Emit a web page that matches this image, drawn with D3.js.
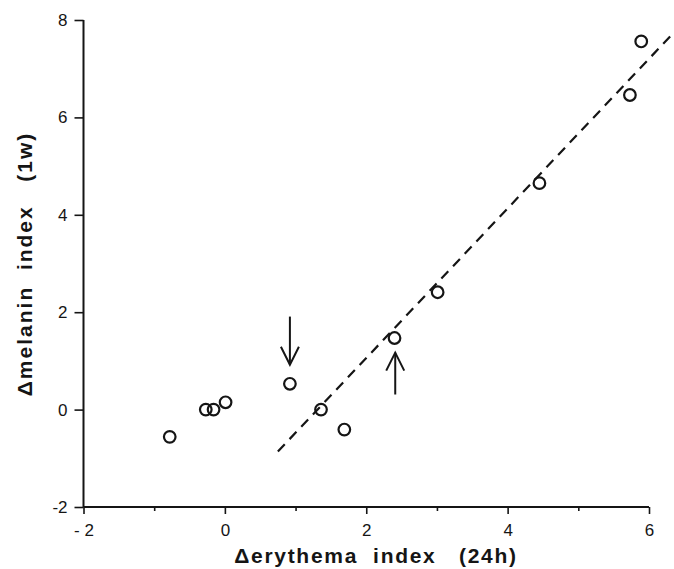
<!DOCTYPE html>
<html>
<head>
<meta charset="utf-8">
<script src="https://cdn.jsdelivr.net/npm/d3@7"></script>
<style>
  html, body { margin: 0; padding: 0; background: #fff; }
  svg { display: block; }
  text { font-family: "Liberation Sans", Arial, Helvetica, sans-serif; fill: #151515; }
</style>
</head>
<body>
<svg id="chart" width="674" height="569"></svg>
<script>
// Change in erythema index at 24 h versus change in melanin index at 1 week
const erythema = [-0.78, -0.27, -0.16, 0.01, 0.92, 1.36, 1.69, 2.40, 3.01, 4.45, 5.73, 5.89];
const melanin  = [-0.56, 0.0, 0.0, 0.15, 0.53, 0.0, -0.41, 1.47, 2.41, 4.65, 6.46, 7.56];

// Fitted regression line, drawn between these two ends
const fitX = [0.75, 6.35];
const fitY = [-0.86, 7.74];

// Arrows marking two points: x position, tail y, head y
const arrowX    = [0.92, 2.41];
const arrowTail = [1.91, 0.31];
const arrowHead = [0.92, 1.17];

const xTicks = [-2, -1, 0, 1, 2, 3, 4, 5, 6];
const xTickLabels = ["- 2", "", "0", "", "2", "", "4", "", "6"];
const yTicks = [-2, 0, 2, 4, 6, 8];
const yTickLabels = ["-2", "0", "2", "4", "6", "8"];

const svg = d3.select("#chart");
const x = d3.scaleLinear().domain([-2, 6]).range([83.5, 649]);
const y = d3.scaleLinear().domain([-2, 8]).range([507, 20]);

const ink = "#151515";

// x axis
const xAxis = svg.append("g")
  .attr("transform", `translate(0,${y(-2)})`)
  .call(d3.axisBottom(x).tickValues(xTicks).tickSize(7).tickPadding(10)
        .tickFormat((d, i) => xTickLabels[i]));
xAxis.select(".domain").attr("d", `M${x(-2)},0H${x(6)}`).attr("stroke", ink).attr("stroke-width", 2);
xAxis.selectAll(".tick line").attr("stroke", ink).attr("stroke-width", 1.6)
  .attr("y2", (d, i) => xTickLabels[i] === "" ? 4 : 7);
xAxis.selectAll(".tick text").attr("font-size", 17).style("font-family", "Liberation Sans, Arial, sans-serif").attr("fill", ink);

// y axis
const yAxis = svg.append("g")
  .attr("transform", `translate(${x(-2)},0)`)
  .call(d3.axisLeft(y).tickValues(yTicks).tickSize(9).tickPadding(7)
        .tickFormat((d, i) => yTickLabels[i]));
yAxis.select(".domain").attr("d", `M0,${y(8)}V${y(-2)}`).attr("stroke", ink).attr("stroke-width", 2);
yAxis.selectAll(".tick line").attr("stroke", ink).attr("stroke-width", 1.6);
yAxis.selectAll(".tick text").attr("font-size", 17).style("font-family", "Liberation Sans, Arial, sans-serif").attr("fill", ink);

// fitted dashed line
svg.append("line")
  .attr("x1", x(fitX[0])).attr("y1", y(fitY[0]))
  .attr("x2", x(fitX[1])).attr("y2", y(fitY[1]))
  .attr("stroke", ink).attr("stroke-width", 2.2)
  .attr("stroke-dasharray", "10,7");

// data points: open (unfilled) circles
svg.append("g").selectAll("circle")
  .data(erythema.map((v, i) => [v, melanin[i]]))
  .join("circle")
  .attr("cx", d => x(d[0])).attr("cy", d => y(d[1]))
  .attr("r", 5.8)
  .attr("fill", "none")
  .attr("stroke", ink).attr("stroke-width", 2.2);

// arrows with open V heads
const arrows = svg.append("g").attr("stroke", ink).attr("stroke-width", 2).attr("fill", "none");
arrowX.forEach((ax, i) => {
  const px = x(ax), pt = y(arrowTail[i]), ph = y(arrowHead[i]);
  const dir = ph > pt ? 1 : -1;
  arrows.append("line").attr("x1", px).attr("y1", pt).attr("x2", px).attr("y2", ph);
  arrows.append("path")
    .attr("d", `M${px - 9},${ph - dir * 18}L${px},${ph}L${px + 9},${ph - dir * 18}`);
});

// axis titles
svg.append("text")
  .attr("x", 376).attr("y", 563)
  .attr("text-anchor", "middle")
  .attr("font-size", 21).attr("font-weight", "bold")
  .attr("letter-spacing", 1.7)
  .style("white-space", "pre")
  .text("\u0394erythema  index   (24h)");

svg.append("text")
  .attr("transform", "translate(32,264) rotate(-90)")
  .attr("text-anchor", "middle")
  .attr("font-size", 21).attr("font-weight", "bold")
  .attr("letter-spacing", 2)
  .style("white-space", "pre")
  .text("\u0394melanin  index   (1w)");
</script>
</body>
</html>
